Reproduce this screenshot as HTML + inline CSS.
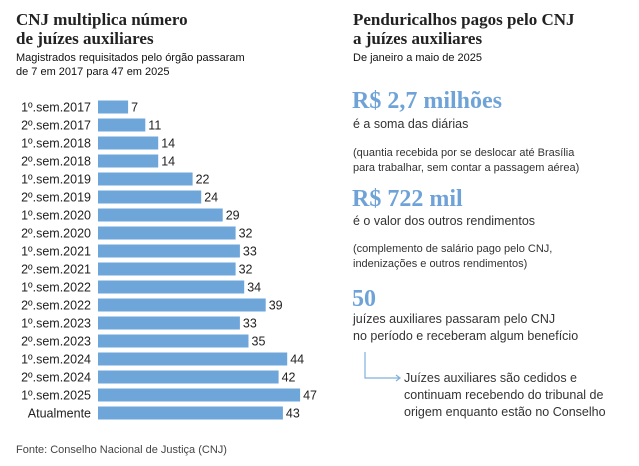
<!DOCTYPE html>
<html><head><meta charset="utf-8"><style>
body{margin:0;width:639px;height:466px;background:#fff;font-family:"Liberation Sans",sans-serif;color:#222;position:relative;overflow:hidden}
.a{position:absolute;white-space:nowrap}
.t{font-family:"Liberation Serif",serif;font-weight:bold;font-size:17px;line-height:19px;color:#222}
.s{font-size:11px;line-height:14px;color:#111}
.big{font-family:"Liberation Serif",serif;font-weight:bold;font-size:24px;color:#6fa3d8}
.n{font-size:12.5px;line-height:17px;color:#333}
.sm{font-size:11px;line-height:15px;color:#333}
</style></head><body>
<div class="a t" style="left:16px;top:10px">CNJ multiplica número<br>de juízes auxiliares</div>
<div class="a s" style="left:16px;top:51px">Magistrados requisitados pelo órgão passaram<br>de 7 em 2017 para 47 em 2025</div>
<svg class="a" style="left:0;top:0" width="340" height="430" id="chart"></svg>
<div class="a sm" style="left:16px;top:443px;color:#444">Fonte: Conselho Nacional de Justiça (CNJ)</div>

<div class="a t" style="left:353px;top:10px">Penduricalhos pagos pelo CNJ<br>a juízes auxiliares</div>
<div class="a s" style="left:353px;top:51px">De janeiro a maio de 2025</div>
<div class="a big" style="left:352px;top:88px">R$ 2,7 milhões</div>
<div class="a n" style="left:353px;top:116px">é a soma das diárias</div>
<div class="a sm" style="left:353px;top:146px">(quantia recebida por se deslocar até Brasília<br>para trabalhar, sem contar a passagem aérea)</div>
<div class="a big" style="left:352px;top:186px">R$ 722 mil</div>
<div class="a n" style="left:353px;top:213px">é o valor dos outros rendimentos</div>
<div class="a sm" style="left:353px;top:242px">(complemento de salário pago pelo CNJ,<br>indenizações e outros rendimentos)</div>
<div class="a big" style="left:352px;top:286px">50</div>
<div class="a n" style="left:353px;top:311px">juízes auxiliares passaram pelo CNJ<br>no período e receberam algum benefício</div>
<svg class="a" style="left:360px;top:352px" width="45" height="30"><path d="M5,0 V26 H40 M36,23 L40,26 L36,29" stroke="#7fb0de" fill="none" stroke-width="1.2"/></svg>
<div class="a n" style="left:404px;top:370px">Juízes auxiliares são cedidos e<br>continuam recebendo do tribunal de<br>origem enquanto estão no Conselho</div>
<script>
const categories=["1º.sem.2017","2º.sem.2017","1º.sem.2018","2º.sem.2018","1º.sem.2019","2º.sem.2019","1º.sem.2020","2º.sem.2020","1º.sem.2021","2º.sem.2021","1º.sem.2022","2º.sem.2022","1º.sem.2023","2º.sem.2023","1º.sem.2024","2º.sem.2024","1º.sem.2025","Atualmente"];
const values=[7,11,14,14,22,24,29,32,33,32,34,39,33,35,44,42,47,43];
const svg=document.getElementById('chart');const NS='http://www.w3.org/2000/svg';
const x=v=>v*4.3, y=i=>100.5+i*18;
categories.forEach((c,i)=>{
 const r=document.createElementNS(NS,'rect');
 
 
 r.setAttribute('x',98);r.setAttribute('y',y(i));r.setAttribute('width',x(values[i]));r.setAttribute('height',13);r.setAttribute('fill','#6fa6da');svg.appendChild(r);
 const l=document.createElementNS(NS,'text');
 
 
 l.setAttribute('x',91);l.setAttribute('y',y(i)+11);l.setAttribute('text-anchor','end');l.setAttribute('font-size','12.5');l.setAttribute('fill','#222');l.setAttribute('font-family','Liberation Sans, sans-serif');l.textContent=c;svg.appendChild(l);
 const v=document.createElementNS(NS,'text');
 
 
 v.setAttribute('x',98+x(values[i])+3);v.setAttribute('y',y(i)+11);v.setAttribute('font-size','12.5');v.setAttribute('fill','#222');v.setAttribute('font-family','Liberation Sans, sans-serif');v.textContent=values[i];svg.appendChild(v);
});
</script>
</body></html>
